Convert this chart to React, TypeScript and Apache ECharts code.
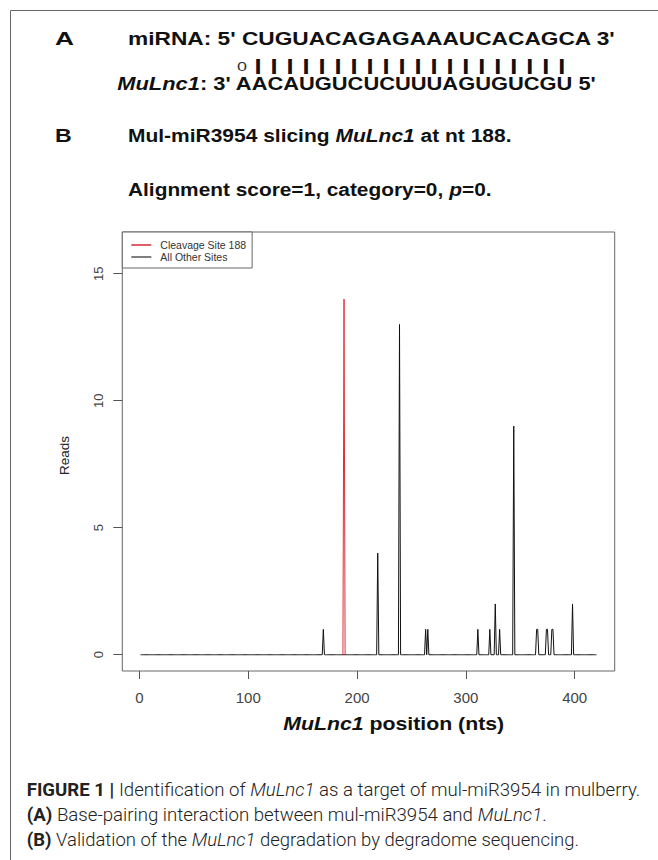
import React, { useEffect, useRef } from "react";
import * as echarts from "echarts";

// ---------------- data ----------------
const sequenceLength = 420;
const otherSitePositions = [169, 219, 239, 263, 265, 311, 322, 327, 331, 344, 365, 366, 374, 375, 379, 380, 398];
const otherSiteReads = [1, 4, 13, 1, 1, 1, 1, 2, 1, 9, 1, 1, 1, 1, 1, 1, 2];
const cleavagePosition = 188;
const cleavageReads = 14;
const xTickValues = [0, 100, 200, 300, 400];
const yTickValues = [0, 5, 10, 15];
const legendNames = ["Cleavage Site 188", "All Other Sites"];

const miRNASeq = "CUGUACAGAGAAAUCACAGCA";
const targetSeq = "AACAUGUCUCUUUAGUGUCGU";
const pairingMarks = ["0", "|", "|", "|", "|", "|", "|", "|", "|", "|", "|", "|", "|", "|", "|", "|", "|", "|", "|", "|", "|"];

// ---------------- text helpers ----------------
const HFAM = "'Liberation Sans', Arial, sans-serif";
const CFAM = "Roboto, 'Liberation Sans', sans-serif";

let measureCtx: CanvasRenderingContext2D | null = null;
function measure(text: string, size: number, weight: string | number, style: string, family: string) {
  if (!measureCtx) measureCtx = document.createElement("canvas").getContext("2d");
  if (!measureCtx) return text.length * size * 0.55;
  measureCtx.font = `${style} ${weight} ${size}px ${family}`;
  return measureCtx.measureText(text).width;
}

type StyleDef = { fontWeight: string | number; fontStyle: string };
function richText(o: {
  x: number; y: number; width?: number; segs: [string, string][];
  styles: Record<string, StyleDef>; size: number; family: string; color: string;
  align?: string; rotation?: number;
}) {
  let natural = 0;
  let str = "";
  for (const [k, t] of o.segs) {
    const s = o.styles[k];
    natural += measure(t, o.size, s.fontWeight, s.fontStyle, o.family);
    str += `{${k}|${t}}`;
  }
  const rich: any = {};
  for (const k of Object.keys(o.styles)) {
    rich[k] = {
      fontSize: o.size, fontFamily: o.family, fontWeight: o.styles[k].fontWeight,
      fontStyle: o.styles[k].fontStyle, fill: o.color, color: o.color, lineHeight: Math.round(o.size * 1.2),
    };
  }
  const align = o.align || "left";
  return {
    type: "text", x: o.x, y: o.y, silent: true,
    scaleX: o.width ? o.width / natural : 1,
    rotation: o.rotation || 0,
    style: {
      text: str, rich, fontSize: o.size, fontFamily: o.family, fill: o.color,
      align, textAlign: align, verticalAlign: "middle", textVerticalAlign: "middle",
    },
  };
}

const H: Record<string, StyleDef> = {
  b: { fontWeight: "bold", fontStyle: "normal" },
  bi: { fontWeight: "bold", fontStyle: "italic" },
  n: { fontWeight: "normal", fontStyle: "normal" },
};
const C: Record<string, StyleDef> = {
  l: { fontWeight: 300, fontStyle: "normal" },
  li: { fontWeight: 300, fontStyle: "italic" },
  b: { fontWeight: "bold", fontStyle: "normal" },
};

export default function App() {
  const ref = useRef<HTMLDivElement>(null);

  useEffect(() => {
    if (!ref.current) return;
    const chart = echarts.init(ref.current, undefined, { renderer: "svg" });

    // full reads profile along the transcript (zeros except at sites)
    const readsAt: Record<number, number> = {};
    otherSitePositions.forEach((p, i) => (readsAt[p] = otherSiteReads[i]));
    const otherData: [number, number][] = [];
    for (let p = 1; p <= sequenceLength; p++) otherData.push([p, readsAt[p] ?? 0]);
    const cleavageData: [number, number][] = [
      [cleavagePosition - 1, 0],
      [cleavagePosition, cleavageReads],
      [cleavagePosition + 1, 0],
    ];

    const xPad = (sequenceLength - 1) * 0.04;
    const yMaxRange = 16;

    // pipes row
    const pipeSize = 16;
    const pipeStr = pairingMarks.slice(1).join(" ");
    const pitchNat = measure("| ", pipeSize, "bold", "normal", HFAM);
    const pipeScale = 16 / pitchNat;
    const pipeHalf = (measure("|", pipeSize, "bold", "normal", HFAM) / 2) * pipeScale;

    const graphics: any[] = [
      { type: "line", silent: true, shape: { x1: 10.5, y1: 10.5, x2: 658, y2: 10.5 }, style: { stroke: "#666", lineWidth: 1 } },
      { type: "line", silent: true, shape: { x1: 10.5, y1: 10.5, x2: 10.5, y2: 860 }, style: { stroke: "#666", lineWidth: 1 } },
      richText({ x: 55, y: 38.5, width: 19, segs: [["b", "A"]], styles: H, size: 18.5, family: HFAM, color: "#111" }),
      richText({ x: 128, y: 38.5, width: 488, segs: [["b", `miRNA: 5' ${miRNASeq} 3'`]], styles: H, size: 18.5, family: HFAM, color: "#111" }),
      richText({ x: 237, y: 66, width: 10, segs: [["n", pairingMarks[0]]], styles: H, size: 13.5, family: HFAM, color: "#333" }),
      {
        type: "text", silent: true, x: 258 - pipeHalf, y: 65.5, scaleX: pipeScale,
        style: { text: pipeStr, fontSize: pipeSize, fontFamily: HFAM, fontWeight: "bold", fill: "#111", align: "left", textAlign: "left", verticalAlign: "middle", textVerticalAlign: "middle" },
      },
      richText({ x: 117.3, y: 83.7, width: 479.4, segs: [["bi", "MuLnc1"], ["b", `: 3' ${targetSeq} 5'`]], styles: H, size: 18.5, family: HFAM, color: "#111" }),
      richText({ x: 55, y: 135.5, width: 16.7, segs: [["b", "B"]], styles: H, size: 18.5, family: HFAM, color: "#111" }),
      richText({ x: 128, y: 135.5, width: 383.7, segs: [["b", "Mul-miR3954 slicing "], ["bi", "MuLnc1"], ["b", " at nt 188."]], styles: H, size: 18.5, family: HFAM, color: "#111" }),
      richText({ x: 128, y: 189.7, width: 363.7, segs: [["b", "Alignment score=1, category=0, "], ["bi", "p"], ["b", "=0."]], styles: H, size: 18.5, family: HFAM, color: "#111" }),
      richText({ x: 64, y: 455.5, segs: [["n", "Reads"]], styles: H, size: 13.5, family: HFAM, color: "#222", align: "center", rotation: Math.PI / 2 }),
      richText({ x: 393.7, y: 724, width: 221, segs: [["bi", "MuLnc1"], ["b", " position (nts)"]], styles: H, size: 18, family: HFAM, color: "#111", align: "center" }),
      richText({ x: 26.7, y: 789.7, width: 614, segs: [["b", "FIGURE 1 | "], ["l", "Identification of "], ["li", "MuLnc1"], ["l", " as a target of mul-miR3954 in mulberry."]], styles: C, size: 17.5, family: CFAM, color: "#222" }),
      richText({ x: 26.7, y: 815, width: 520, segs: [["b", "(A) "], ["l", "Base-pairing interaction between mul-miR3954 and "], ["li", "MuLnc1"], ["l", "."]], styles: C, size: 17.5, family: CFAM, color: "#222" }),
      richText({ x: 26.7, y: 840, width: 552.3, segs: [["b", "(B) "], ["l", "Validation of the "], ["li", "MuLnc1"], ["l", " degradation by degradome sequencing."]], styles: C, size: 17.5, family: CFAM, color: "#222" }),
    ];

    chart.setOption({
      animation: false,
      backgroundColor: "#fff",
      grid: { left: 122.3, top: 232, width: 492.4, height: 439, show: true, borderColor: "#666", borderWidth: 1, backgroundColor: "transparent" },
      legend: {
        data: legendNames,
        left: 122.3,
        top: 232,
        orient: "vertical",
        backgroundColor: "#fff",
        borderColor: "#666",
        borderWidth: 1,
        padding: [7, 6, 5, 9],
        itemWidth: 20,
        itemHeight: 1.5,
        itemGap: 0,
        icon: "rect",
        selectedMode: false,
        textStyle: { fontSize: 10.5, color: "#333", fontFamily: HFAM, padding: [0, 0, 0, 4], lineHeight: 12 },
      },
      xAxis: {
        type: "value",
        min: 1 - xPad,
        max: sequenceLength + xPad,
        axisLine: { show: false, onZero: false },
        splitLine: { show: false },
        axisTick: { show: true, customValues: xTickValues, length: 8, lineStyle: { color: "#555" } },
        axisLabel: { customValues: xTickValues, fontSize: 15, color: "#444", margin: 19, fontFamily: HFAM },
      },
      yAxis: {
        type: "value",
        min: -0.04 * yMaxRange,
        max: yMaxRange * 1.04,
        axisLine: { show: false, onZero: false },
        splitLine: { show: false },
        axisTick: { show: true, customValues: yTickValues, length: 9, lineStyle: { color: "#555" } },
        axisLabel: { customValues: yTickValues, rotate: 90, fontSize: 13, color: "#444", margin: 17, fontFamily: HFAM },
      },
      series: [
        {
          name: legendNames[1], type: "line", data: otherData, symbol: "none", showSymbol: false,
          lineStyle: { color: "#111", width: 1 }, itemStyle: { color: "#555" }, z: 2,
        },
        {
          name: legendNames[0], type: "line", data: cleavageData, symbol: "none", showSymbol: false,
          lineStyle: { color: "#e0303c", width: 1 }, itemStyle: { color: "#d42a35" }, z: 3,
        },
      ],
      graphic: { elements: graphics },
    });

    return () => chart.dispose();
  }, []);

  return (
    <div
      ref={ref}
      style={{ position: "absolute", left: 0, top: 0, width: 658, height: 860, background: "#fff" }}
    />
  );
}
